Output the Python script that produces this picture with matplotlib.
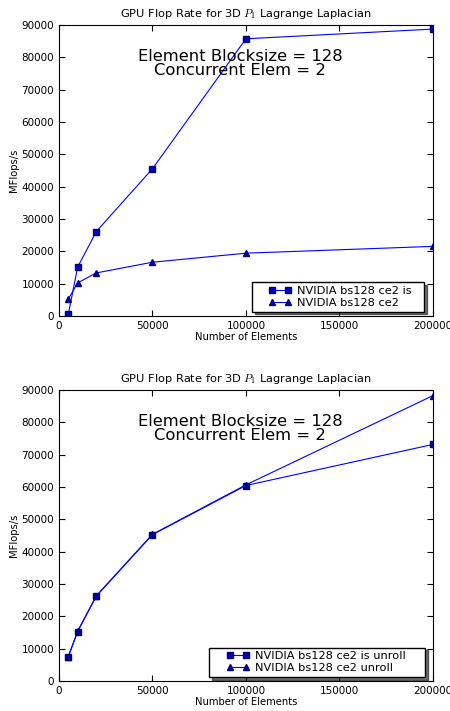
import matplotlib
matplotlib.use('Agg')
import matplotlib.pyplot as plt
from matplotlib.legend_handler import HandlerLine2D

plt.rcParams['mathtext.fontset'] = 'cm'

# Top chart
elements = [5000, 10000, 20000, 50000, 100000, 200000]
top_is = [500, 15100, 26100, 45500, 85700, 88700]
top_plain = [5200, 10200, 13300, 16600, 19400, 21500]

# Bottom chart
bot_is_unroll = [7500, 15300, 26300, 45300, 60500, 73200]
bot_unroll = [7600, 15500, 26400, 45400, 60700, 88300]

x_ticks = [0, 50000, 100000, 150000, 200000]
y_ticks = [0, 10000, 20000, 30000, 40000, 50000, 60000, 70000, 80000, 90000]

title = 'GPU Flop Rate for 3D $P_1$ Lagrange Laplacian'
note = 'Element Blocksize = 128\nConcurrent Elem = 2'


def make_panel(ax, sq, tri, sq_label, tri_label, leg_box):
    l1, = ax.plot(elements, sq, '-s', color='b', lw=0.8, ms=5, mec='#00006a', mfc='#0000cc', label=sq_label)
    l2, = ax.plot(elements, tri, '-^', color='b', lw=0.8, ms=5, mec='#00006a', mfc='#0000cc', label=tri_label)
    ax.set_xlim(0, 200000)
    ax.set_ylim(0, 90000)
    ax.set_xticks(x_ticks)
    ax.set_yticks(y_ticks)
    ax.tick_params(direction='in', top=True, right=True, labelsize=7.5, length=4)
    ax.set_title(title, fontsize=8.2)
    ax.set_xlabel('Number of Elements', fontsize=7.2, labelpad=1)
    ax.set_ylabel('MFlops/s', fontsize=7.2, labelpad=2)
    ax.text(0.485, 0.868, note, transform=ax.transAxes, ha='center', va='center',
            fontsize=11.8, linespacing=0.95)
    hm = {l1: HandlerLine2D(xpad=1.2), l2: HandlerLine2D(xpad=1.2)}
    leg = ax.legend(loc='lower left', bbox_to_anchor=leg_box, mode='expand', numpoints=2,
                    fontsize=8.2, shadow={'color': 'k', 'alpha': 0.55}, fancybox=False,
                    handlelength=3.2, borderpad=0.3, labelspacing=0.2,
                    handletextpad=0.5, borderaxespad=0, handler_map=hm)
    leg.get_frame().set_edgecolor('black')


fig, (ax1, ax2) = plt.subplots(2, 1, figsize=(4.5, 7.11), dpi=100)
fig.subplots_adjust(left=0.131, right=0.962, top=0.965, bottom=0.042, hspace=0.255)

make_panel(ax1, top_is, top_plain, 'NVIDIA bs128 ce2 is', 'NVIDIA bs128 ce2',
           (0.516, 0.0148, 0.460, 0.09))
make_panel(ax2, bot_is_unroll, bot_unroll, 'NVIDIA bs128 ce2 is unroll', 'NVIDIA bs128 ce2 unroll',
           (0.402, 0.0148, 0.577, 0.09))

fig.savefig('out.png', dpi=100)
